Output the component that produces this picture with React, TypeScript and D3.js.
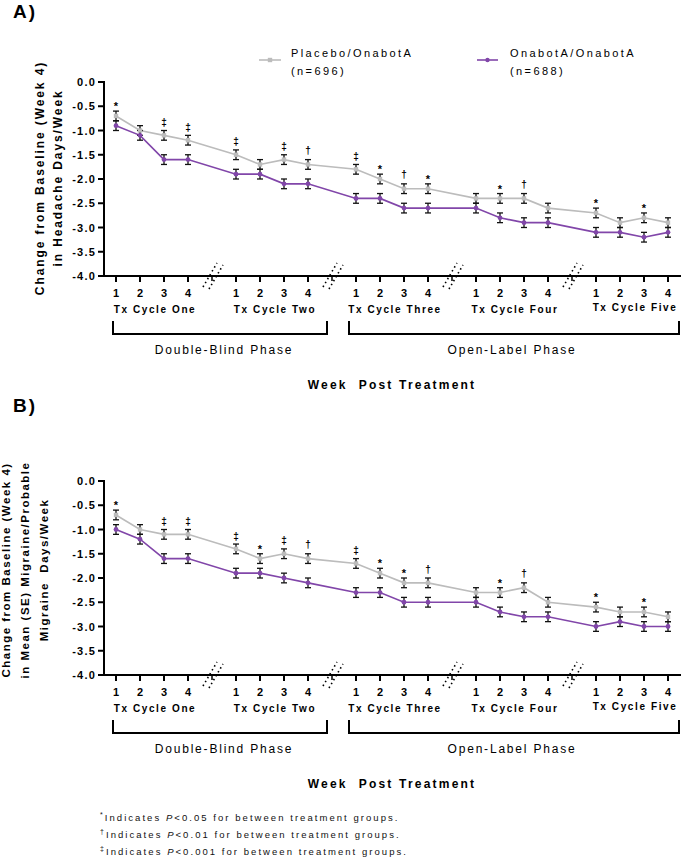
import React from "react";
import * as d3 from "d3";

const cycles = ["Tx Cycle One", "Tx Cycle Two", "Tx Cycle Three", "Tx Cycle Four", "Tx Cycle Five"];
const weeks = ["1", "2", "3", "4"];
const yTicks = [0, -0.5, -1, -1.5, -2, -2.5, -3, -3.5, -4];

// Panel A: headache days/week
const headachePlacebo = [-0.7, -1.0, -1.1, -1.2, -1.5, -1.7, -1.6, -1.7, -1.8, -2.0, -2.2, -2.2, -2.4, -2.4, -2.4, -2.6, -2.7, -2.9, -2.8, -2.9];
const headacheOnabot = [-0.9, -1.1, -1.6, -1.6, -1.9, -1.9, -2.1, -2.1, -2.4, -2.4, -2.6, -2.6, -2.6, -2.8, -2.9, -2.9, -3.1, -3.1, -3.2, -3.1];
const headachePlaceboSE = [0.1, 0.1, 0.1, 0.1, 0.1, 0.1, 0.1, 0.1, 0.1, 0.1, 0.1, 0.1, 0.1, 0.1, 0.1, 0.1, 0.1, 0.1, 0.1, 0.1];
const headacheOnabotSE = [0.1, 0.1, 0.1, 0.1, 0.1, 0.1, 0.1, 0.1, 0.1, 0.1, 0.1, 0.1, 0.1, 0.1, 0.1, 0.1, 0.1, 0.1, 0.1, 0.1];
const headacheSig = ["*", "", "‡", "‡", "‡", "", "‡", "†", "‡", "*", "†", "*", "", "*", "†", "", "*", "", "*", ""];

// Panel B: migraine/probable migraine days/week
const migrainePlacebo = [-0.7, -1.0, -1.1, -1.1, -1.4, -1.6, -1.5, -1.6, -1.7, -1.9, -2.1, -2.1, -2.3, -2.3, -2.2, -2.5, -2.6, -2.7, -2.7, -2.8];
const migraineOnabot = [-1.0, -1.2, -1.6, -1.6, -1.9, -1.9, -2.0, -2.1, -2.3, -2.3, -2.5, -2.5, -2.5, -2.7, -2.8, -2.8, -3.0, -2.9, -3.0, -3.0];
const migrainePlaceboSE = [0.1, 0.1, 0.1, 0.1, 0.1, 0.1, 0.1, 0.1, 0.1, 0.1, 0.1, 0.1, 0.1, 0.1, 0.1, 0.1, 0.1, 0.1, 0.1, 0.1];
const migraineOnabotSE = [0.1, 0.1, 0.1, 0.1, 0.1, 0.1, 0.1, 0.1, 0.1, 0.1, 0.1, 0.1, 0.1, 0.1, 0.1, 0.1, 0.1, 0.1, 0.1, 0.1];
const migraineSig = ["*", "", "‡", "‡", "‡", "*", "‡", "†", "‡", "*", "*", "†", "", "*", "†", "", "*", "", "*", ""];

const seriesNames = ["Placebo/OnabotA", "OnabotA/OnabotA"];
const seriesN = ["(n=696)", "(n=688)"];
const phases = ["Double-Blind Phase", "Open-Label Phase"];
const footnotes = [
  { sym: "*", pre: "Indicates ", p: "P", post: "<0.05 for between treatment groups." },
  { sym: "†", pre: "Indicates ", p: "P", post: "<0.01 for between treatment groups." },
  { sym: "‡", pre: "Indicates ", p: "P", post: "<0.001 for between treatment groups." },
];

const GRAY = "#bcbcbc";
const PURPLE = "#8146a9";
const FONT = "'Liberation Sans', Arial, Helvetica, sans-serif";

const slot = (i: number) => Math.floor(i / 4) * 5 + (i % 4);
const x = d3.scaleLinear().domain([0, 23]).range([116, 668]);
const AX_LEFT = 104;
const AX_RIGHT = 681;

function Panel({ top, placebo, onabot, pSE, oSE, sig, titleLines, titleX, titleCenter, titleSize, titleSpacing, label, labelY }: any) {
  const bottom = top + 194;
  const y = d3.scaleLinear().domain([0, -4]).range([top, bottom]);
  const line = d3
    .line<number>()
    .x((_, i) => x(slot(i)))
    .y((d) => y(d));
  const breaks = [4, 9, 14, 19];
  const sigOffset: Record<string, number> = { "*": 5, "†": 9, "‡": 8 };
  return (
    <g>
      <text x={13} y={labelY} fontFamily={FONT} fontWeight="bold" fontSize={19} letterSpacing={2} dominantBaseline="central">
        {label}
      </text>
      {titleLines.map((t: string, k: number) => (
        <text
          key={k}
          transform={`translate(${titleX[k]},${titleCenter}) rotate(-90)`}
          textAnchor="middle"
          dominantBaseline="central"
          fontFamily={FONT}
          fontWeight="bold"
          fontSize={titleSize}
          letterSpacing={titleSpacing}
          style={{ whiteSpace: "pre" }}
        >
          {t}
        </text>
      ))}
      {/* y axis */}
      <line x1={AX_LEFT} x2={AX_LEFT} y1={top - 1} y2={bottom + 1} stroke="#000" strokeWidth={2} />
      {yTicks.map((t) => (
        <g key={t}>
          <line x1={AX_LEFT - 6} x2={AX_LEFT} y1={y(t)} y2={y(t)} stroke="#000" strokeWidth={2} />
          <text
            x={AX_LEFT - 8}
            y={y(t)}
            textAnchor="end"
            dominantBaseline="central"
            fontFamily={FONT}
            fontWeight="bold"
            fontSize={11}
            letterSpacing={1.2}
          >
            {t.toFixed(1)}
          </text>
        </g>
      ))}
      {/* x axis */}
      <line x1={AX_LEFT} x2={AX_RIGHT} y1={bottom} y2={bottom} stroke="#000" strokeWidth={2} />
      {placebo.map((_: number, i: number) => (
        <g key={i}>
          <line x1={x(slot(i))} x2={x(slot(i))} y1={bottom} y2={bottom + 6} stroke="#000" strokeWidth={2} />
          <text
            x={x(slot(i))}
            y={top + 211}
            textAnchor="middle"
            dominantBaseline="central"
            fontFamily={FONT}
            fontWeight="bold"
            fontSize={11}
          >
            {weeks[i % 4]}
          </text>
        </g>
      ))}
      {breaks.map((b) => {
        const cx = x(b);
        return (
          <g key={b}>
            <line x1={cx - 9} y1={bottom + 11} x2={cx + 5} y2={bottom - 13} stroke="#000" strokeWidth={1.6} strokeDasharray="1.5,3" />
            <line x1={cx - 3} y1={bottom + 13} x2={cx + 11} y2={bottom - 11} stroke="#000" strokeWidth={1.6} strokeDasharray="1.5,3" />
            <line x1={cx} x2={cx} y1={bottom} y2={bottom + 5} stroke="#000" strokeWidth={1.5} />
          </g>
        );
      })}
      {cycles.map((c, k) => (
        <text
          key={c}
          x={(x(k * 5) + x(k * 5 + 3)) / 2 + 3}
          y={top + (k === 4 ? 225 : 227)}
          textAnchor="middle"
          dominantBaseline="central"
          fontFamily={FONT}
          fontWeight="bold"
          fontSize={10}
          letterSpacing={1.6}
        >
          {c}
        </text>
      ))}
      {/* phase brackets */}
      <path d={`M113,${top + 239}V${top + 252}H327V${top + 239}`} fill="none" stroke="#000" strokeWidth={2} />
      <path d={`M349,${top + 239}V${top + 252}H679V${top + 239}`} fill="none" stroke="#000" strokeWidth={2} />
      <text x={224} y={top + 268} textAnchor="middle" dominantBaseline="central" fontFamily={FONT} fontSize={12} letterSpacing={1.8}>
        {phases[0]}
      </text>
      <text x={512} y={top + 268} textAnchor="middle" dominantBaseline="central" fontFamily={FONT} fontSize={12} letterSpacing={1.8}>
        {phases[1]}
      </text>
      <text x={392} y={top + 303} textAnchor="middle" dominantBaseline="central" fontFamily={FONT} fontWeight="bold" fontSize={12} letterSpacing={2.2} style={{ whiteSpace: "pre" }}>
        {"Week  Post Treatment"}
      </text>
      {/* series lines */}
      <path d={line(placebo) || ""} fill="none" stroke={GRAY} strokeWidth={1.6} />
      <path d={line(onabot) || ""} fill="none" stroke={PURPLE} strokeWidth={1.6} />
      {/* error bars */}
      {[
        { v: placebo, se: pSE },
        { v: onabot, se: oSE },
      ].map((s, k) =>
        s.v.map((d: number, i: number) => {
          const cx = x(slot(i));
          const y1 = y(d + s.se[i]);
          const y2 = y(d - s.se[i]);
          return (
            <g key={`${k}-${i}`} stroke="#111" strokeWidth={1.3}>
              <line x1={cx} x2={cx} y1={y1} y2={y2} />
              <line x1={cx - 3} x2={cx + 3} y1={y1} y2={y1} />
              <line x1={cx - 3} x2={cx + 3} y1={y2} y2={y2} />
            </g>
          );
        })
      )}
      {/* points */}
      {placebo.map((d: number, i: number) => (
        <rect key={`p${i}`} x={x(slot(i)) - 2.2} y={y(d) - 2.2} width={4.4} height={4.4} fill={GRAY} />
      ))}
      {onabot.map((d: number, i: number) => (
        <circle key={`o${i}`} cx={x(slot(i))} cy={y(d)} r={2.4} fill={PURPLE} />
      ))}
      {/* significance */}
      {sig.map((s: string, i: number) =>
        s ? (
          <text
            key={`s${i}`}
            x={x(slot(i))}
            y={y(placebo[i] + pSE[i]) - sigOffset[s]}
            textAnchor="middle"
            dominantBaseline="central"
            fontFamily={FONT}
            fontWeight="bold"
            fill="#000"
            fontSize={s === "*" ? 11 : 10}
          >
            {s}
          </text>
        ) : null
      )}
    </g>
  );
}

export default function App() {
  return (
    <div style={{ position: "absolute", left: 0, top: 0 }}>
      <svg width={685} height={859} viewBox="0 0 685 859" style={{ display: "block", background: "#fff" }}>
        <rect width={685} height={859} fill="#fff" />
        {/* legend */}
        <g fontFamily={FONT} fontSize={11} letterSpacing={2.4}>
          <line x1={259} x2={281} y1={60} y2={60} stroke={GRAY} strokeWidth={1.6} />
          <rect x={267.8} y={57.8} width={4.4} height={4.4} fill={GRAY} />
          <text x={291} y={53} dominantBaseline="central">{seriesNames[0]}</text>
          <text x={291} y={71} dominantBaseline="central">{seriesN[0]}</text>
          <line x1={477} x2={498} y1={60} y2={60} stroke={PURPLE} strokeWidth={1.6} />
          <circle cx={487.5} cy={60} r={2.2} fill={PURPLE} />
          <text x={510} y={53} dominantBaseline="central">{seriesNames[1]}</text>
          <text x={510} y={71} dominantBaseline="central">{seriesN[1]}</text>
        </g>
        <Panel
          top={82}
          placebo={headachePlacebo}
          onabot={headacheOnabot}
          pSE={headachePlaceboSE}
          oSE={headacheOnabotSE}
          sig={headacheSig}
          titleLines={["Change from Baseline (Week 4)", "in Headache Days/Week"]}
          titleX={[40, 58]}
          titleCenter={178}
          titleSize={12}
          titleSpacing={1.9}
          label="A)"
          labelY={11}
        />
        <Panel
          top={481}
          placebo={migrainePlacebo}
          onabot={migraineOnabot}
          pSE={migrainePlaceboSE}
          oSE={migraineOnabotSE}
          sig={migraineSig}
          titleLines={["Change from Baseline (Week 4)", "in Mean (SE) Migraine/Probable", "Migraine  Days/Week"]}
          titleX={[6, 25, 44]}
          titleCenter={570}
          titleSize={11.5}
          titleSpacing={1.5}
          label="B)"
          labelY={405}
        />
        {/* footnotes */}
        <g fontFamily={FONT} fontSize={9.5} letterSpacing={2.05} fill="#111">
          {footnotes.map((f, k) => (
            <text key={k} x={100} y={817 + k * 17} dominantBaseline="central">
              <tspan fontSize={7} dy={-3}>{f.sym}</tspan>
              <tspan dy={3}>{f.pre}</tspan>
              <tspan fontStyle="italic">{f.p}</tspan>
              <tspan>{f.post}</tspan>
            </text>
          ))}
        </g>
      </svg>
    </div>
  );
}
